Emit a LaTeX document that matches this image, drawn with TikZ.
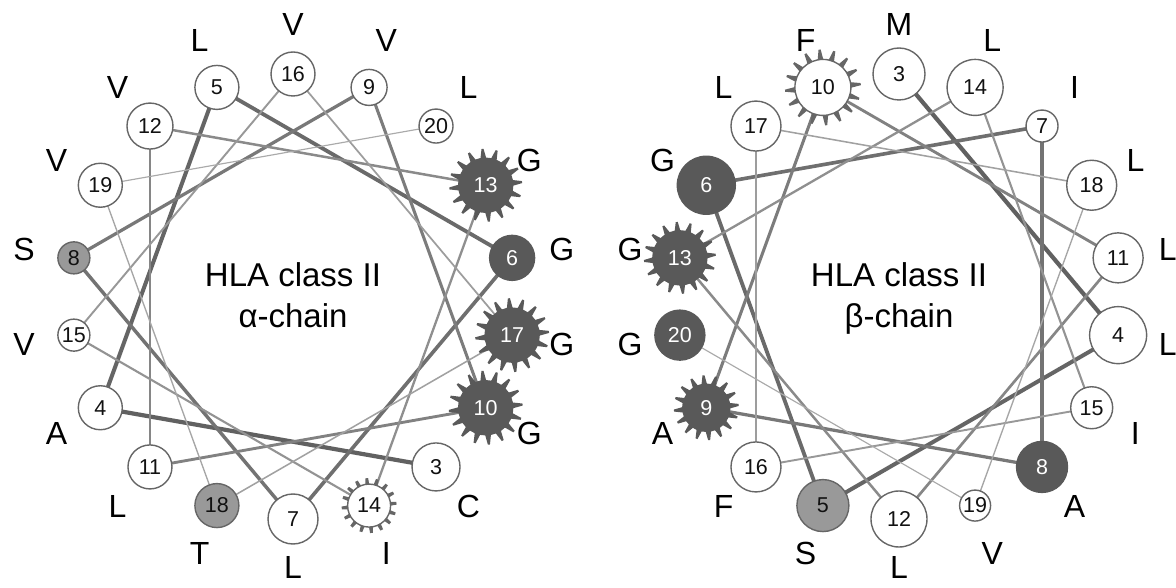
\documentclass[tikz,border=0pt]{standalone}
\usepackage{fontspec}
\setmainfont{Liberation Sans}
\usetikzlibrary{calc}
\pgfdeclarelayer{bg}
\pgfdeclarelayer{mid}
\pgfsetlayers{bg,mid,main}
\definecolor{dk}{HTML}{595959}
\definecolor{md}{HTML}{999999}
\definecolor{bd}{HTML}{666666}
\definecolor{tx}{HTML}{111111}
\tikzset{
  res/.style={circle, inner sep=0pt, line width=1.4pt, draw=bd, fill=white, text=tx,
    font=\fontsize{21.5}{21.5}\selectfont},
  wres/.style={res},
  gres/.style={res, fill=md},
  dres/.style={res, fill=dk, draw=dk, text=white},
  lbl/.style={inner sep=0pt, text=black, font=\fontsize{32}{32}\selectfont},
  ttl/.style={inner sep=0pt, text=black, font=\fontsize{33}{33}\selectfont, anchor=base},
}
% residue: name, wheel centre, angle, radius, style, text
\newcommand\res[6]{\node[#5, minimum size=#4*2pt] (#1) at ($(#2)+(#3:222.5pt)$) {#6};}
% label: name, label centre, angle, text
\newcommand\lab[4]{\node[lbl] (#1) at ($(#2)+(#3:273pt)$) {#4};}
% teeth: node, base radius, tip radius, half base angle, half tip angle, colour
\newcommand\teeth[6]{%
  \foreach \k in {0,...,15}{%
    \pgfmathsetmacro\aa{22.5*\k+5}%
    \fill[#6] ($(#1)+(\aa-#4:#2pt)$) -- ($(#1)+(\aa-#5:#3pt)$) -- ($(#1)+(\aa+#5:#3pt)$) -- ($(#1)+(\aa+#4:#2pt)$) -- cycle;}}
\begin{document}
\begin{tikzpicture}[x=1pt,y=1pt]
\useasboundingbox (0,0) rectangle (1176,587);
\coordinate (cL) at (293,290.5);
\coordinate (cR) at (899,290.5);
\coordinate (kL) at (293,290);
\coordinate (kR) at (899,290);

% ---------- left wheel (alpha chain) ----------
\res{L3}{cL}{310}{24}{wres}{3}
\res{L4}{cL}{210}{22}{wres}{4}
\res{L5}{cL}{110}{22}{wres}{5}
\res{L6}{cL}{10}{22.5}{dres}{6}
\res{L7}{cL}{270}{25}{wres}{7}
\res{L8}{cL}{170}{16}{gres}{8}
\res{L9}{cL}{70}{18}{wres}{9}
\res{L10}{cL}{330}{27}{dres}{10}
\res{L11}{cL}{230}{22}{wres}{11}
\res{L12}{cL}{130}{23}{wres}{12}
\res{L13}{cL}{30}{27}{dres}{13}
\res{L14}{cL}{290}{21.5}{wres}{14}
\res{L15}{cL}{190}{16}{wres}{15}
\res{L16}{cL}{90}{22}{wres}{16}
\res{L17}{cL}{350}{27}{dres}{17}
\res{L18}{cL}{250}{22}{gres}{18}
\res{L19}{cL}{150}{22}{wres}{19}
\res{L20}{cL}{50}{17}{wres}{20}

\lab{aL3}{kL}{310}{C}
\lab{aL4}{kL}{210}{A}
\lab{aL5}{kL}{110}{L}
\lab{aL6}{kL}{10}{G}
\node[lbl] (aL7) at ($(kL)+(270:270pt)$) {L};
\lab{aL8}{kL}{170}{S}
\lab{aL9}{kL}{70}{V}
\lab{aL10}{kL}{330}{G}
\lab{aL11}{kL}{230}{L}
\lab{aL12}{kL}{130}{V}
\lab{aL13}{kL}{30}{G}
\lab{aL14}{kL}{290}{I}
\lab{aL15}{kL}{190}{V}
\lab{aL16}{kL}{90}{V}
\lab{aL17}{kL}{350}{G}
\lab{aL18}{kL}{250}{T}
\lab{aL19}{kL}{150}{V}
\lab{aL20}{kL}{50}{L}

\node[ttl] (tL1) at (293,300) {HLA class II};
\node[ttl] (tL2) at (293,259) {α-chain};

% ---------- right wheel (beta chain) ----------
\res{R3}{cR}{90}{26}{wres}{3}
\res{R4}{cR}{-10}{28.5}{wres}{4}
\res{R5}{cR}{-110}{26}{gres}{5}
\res{R6}{cR}{150}{29}{dres}{6}
\res{R7}{cR}{50}{16}{wres}{7}
\res{R8}{cR}{-50}{25.5}{dres}{8}
\res{R9}{cR}{-150}{23.5}{dres}{9}
\res{R10}{cR}{110}{28}{wres}{10}
\res{R11}{cR}{10}{25}{wres}{11}
\res{R12}{cR}{-90}{28}{wres}{12}
\res{R13}{cR}{170}{27}{dres}{13}
\res{R14}{cR}{70}{28}{wres}{14}
\res{R15}{cR}{-30}{21}{wres}{15}
\res{R16}{cR}{-130}{25}{wres}{16}
\res{R17}{cR}{130}{25}{wres}{17}
\res{R18}{cR}{30}{25}{wres}{18}
\res{R19}{cR}{-70}{15.5}{wres}{19}
\res{R20}{cR}{-170}{25}{dres}{20}

\lab{bR3}{kR}{90}{M}
\lab{bR4}{kR}{-10}{L}
\lab{bR5}{kR}{-110}{S}
\lab{bR6}{kR}{150}{G}
\lab{bR7}{kR}{50}{I}
\lab{bR8}{kR}{-50}{A}
\lab{bR9}{kR}{-150}{A}
\lab{bR10}{kR}{110}{F}
\lab{bR11}{kR}{10}{L}
\node[lbl] (bR12) at ($(kR)+(-90:270pt)$) {L};
\lab{bR13}{kR}{170}{G}
\lab{bR14}{kR}{70}{L}
\lab{bR15}{kR}{-30}{I}
\lab{bR16}{kR}{-130}{F}
\lab{bR17}{kR}{130}{L}
\lab{bR18}{kR}{30}{L}
\lab{bR19}{kR}{-70}{V}
\lab{bR20}{kR}{-170}{G}

\node[ttl] (tR1) at (899,300) {HLA class II};
\node[ttl] (tR2) at (899,259) {β-chain};

% ---------- teeth ----------
\begin{pgfonlayer}{mid}
\teeth{L13}{24}{36.5}{8.5}{1.6}{dk}
\teeth{L17}{24}{37}{8.5}{1.6}{dk}
\teeth{L10}{24}{37}{8.5}{1.6}{dk}
\teeth{L14}{19}{27.5}{6.5}{3}{bd}
\teeth{R13}{24}{36}{8.5}{1.6}{dk}
\teeth{R9}{21}{32.5}{9}{1.8}{dk}
\teeth{R10}{26}{38}{7}{1.6}{bd}
\end{pgfonlayer}

% ---------- helix connections ----------
\begin{pgfonlayer}{bg}
\foreach \n in {3,...,19}{%
  \pgfmathtruncatemacro\m{\n+1}%
  \pgfmathsetmacro\w{4.2-0.19*(\n-3)}%
  \pgfmathsetmacro\g{62-1.8*(\n-3)}%
  \draw[line width=\w pt, draw=black!\g] (L\n.center) -- (L\m.center);
  \draw[line width=\w pt, draw=black!\g] (R\n.center) -- (R\m.center);
}
\end{pgfonlayer}
\end{tikzpicture}
\end{document}
